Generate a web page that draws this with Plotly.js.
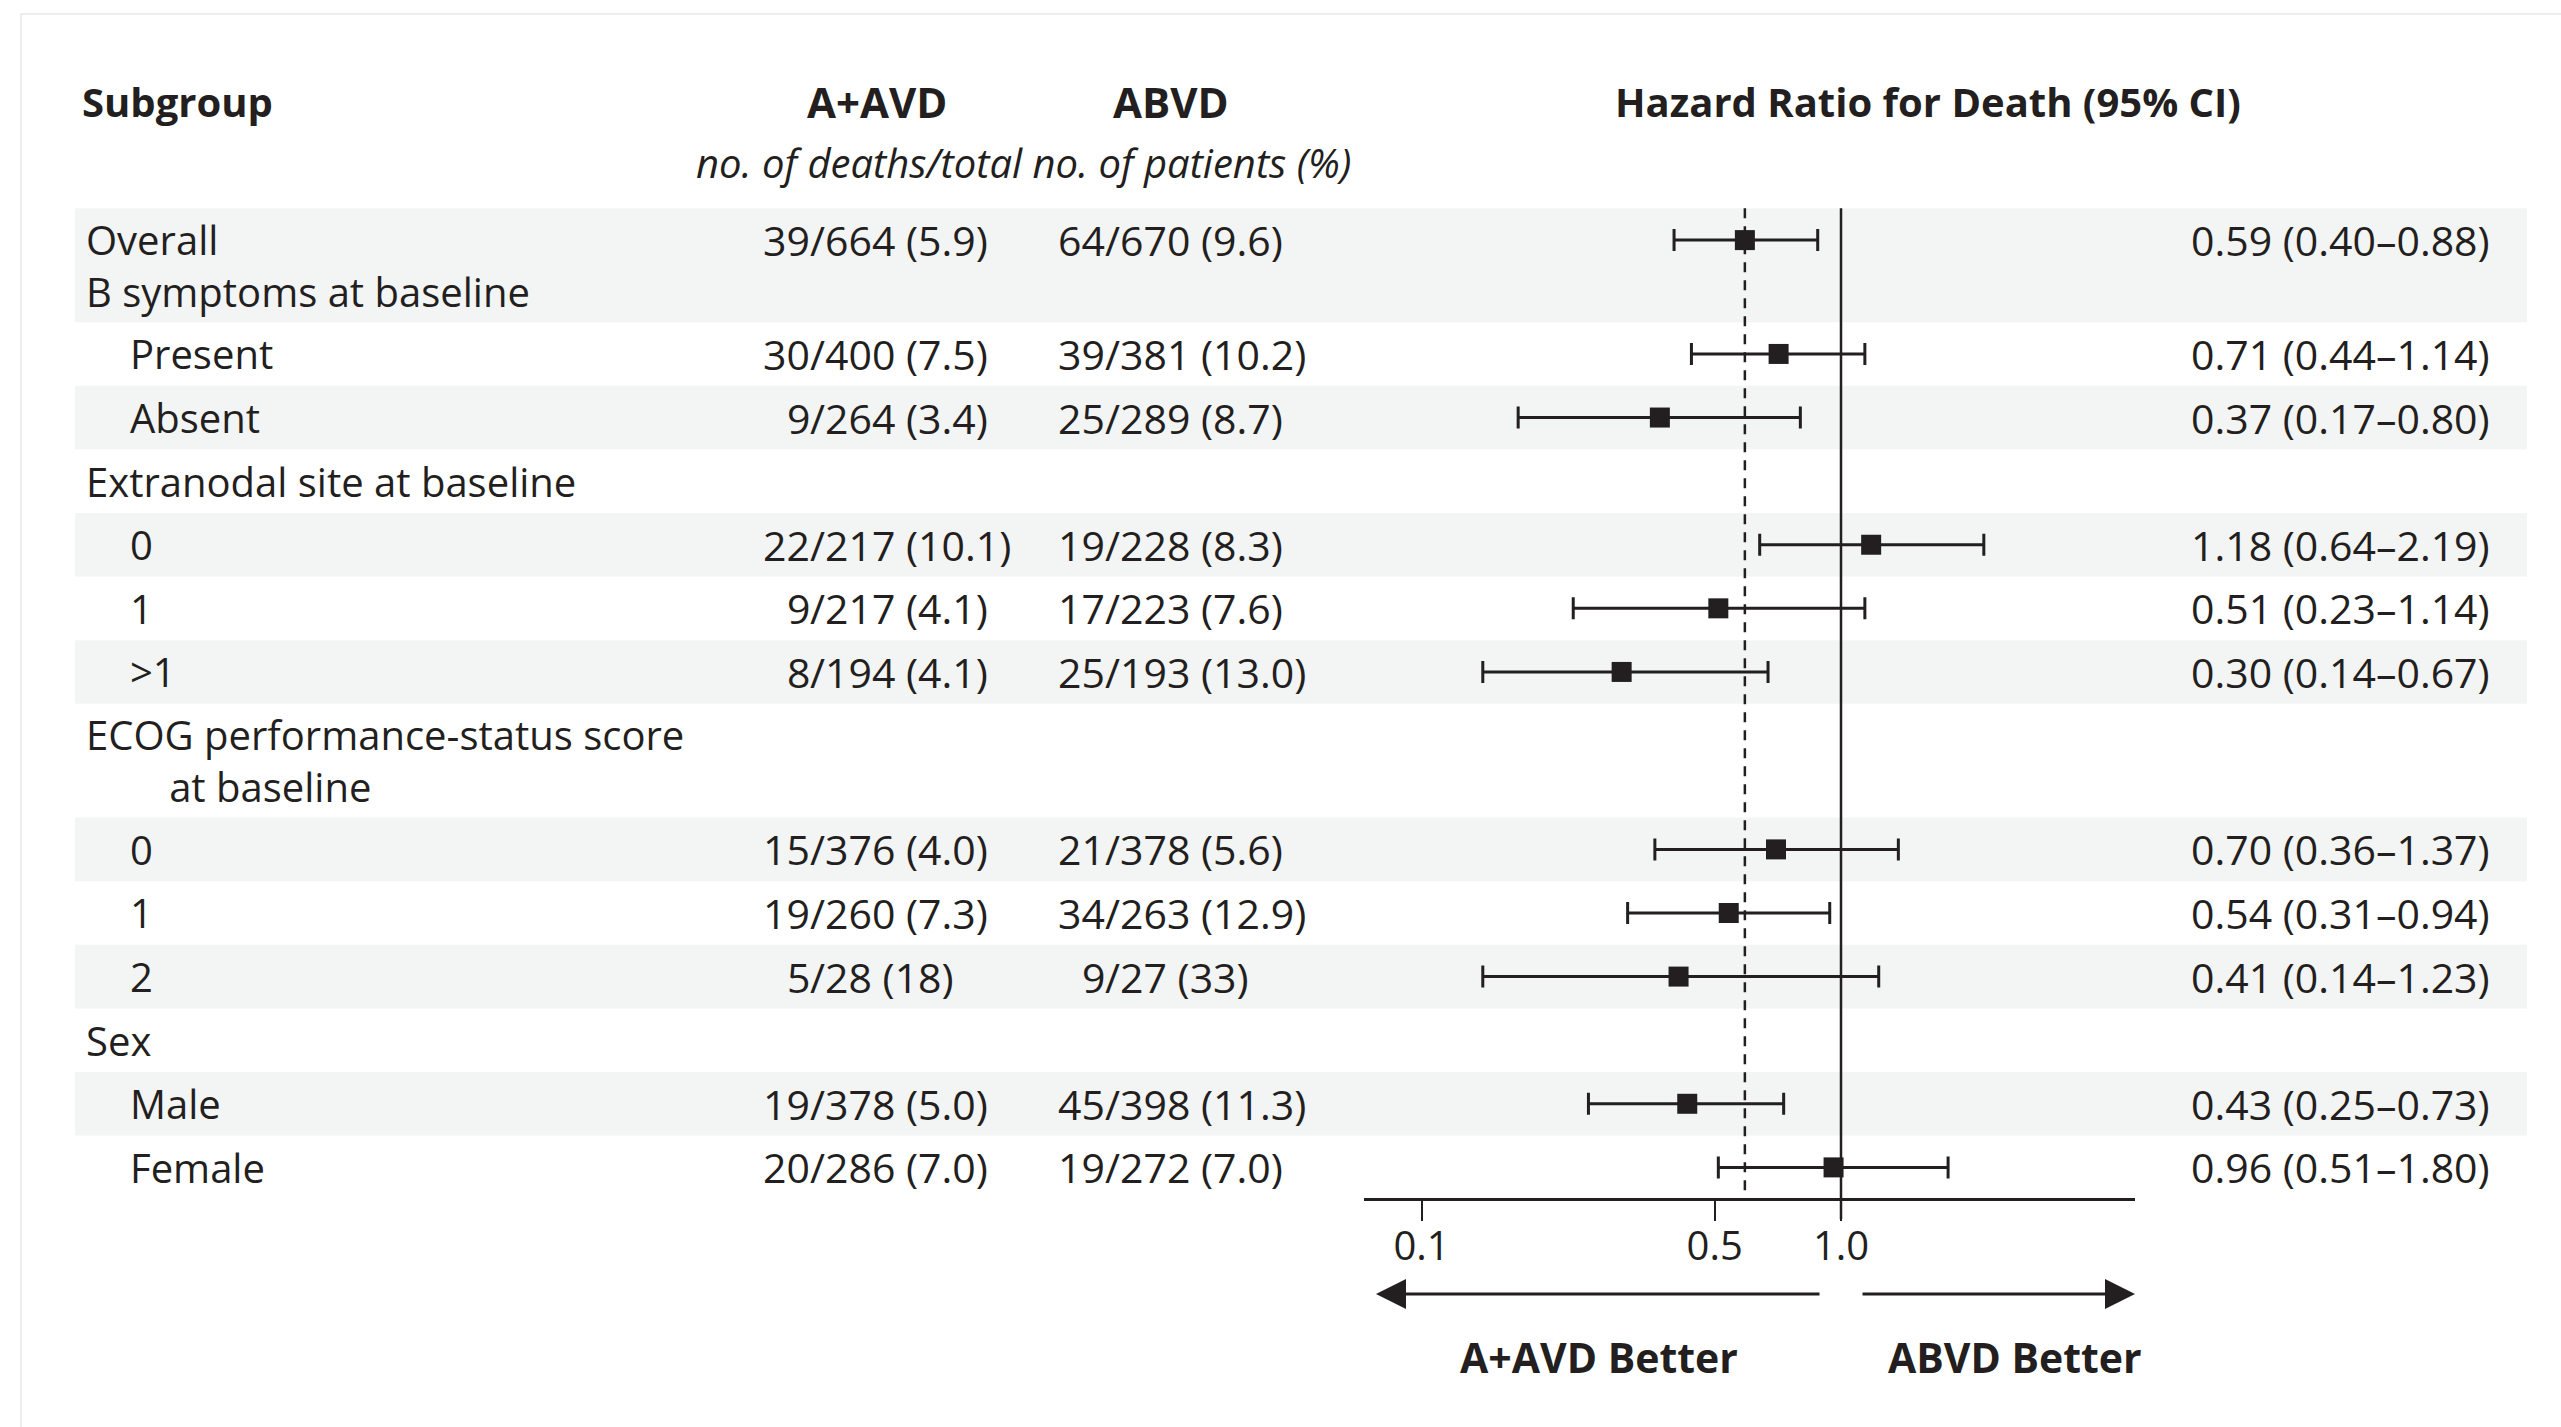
<!DOCTYPE html>
<html>
<head>
<meta charset="utf-8">
<script src="https://cdn.plot.ly/plotly-3.0.1.min.js"></script>
<style>
  html, body { margin: 0; padding: 0; background: #ffffff; }
  #chart { width: 2561px; height: 1427px; }
</style>
</head>
<body>
<div id="chart"></div>
<script>
// ---- Subgroup lines, top to bottom ----
const subgroups = [
  "Overall", "B symptoms at baseline", "Present", "Absent",
  "Extranodal site at baseline", "0", "1", ">1",
  "ECOG performance-status score", "at baseline", "0", "1", "2",
  "Sex", "Male", "Female"
];
const indentLevel = [0, 0, 1, 1, 0, 1, 1, 1, 0, 2, 1, 1, 1, 0, 1, 1];
// a continuation line sits closer to the line above it and shares its band
const continuation = [false, true, false, false, false, false, false, false, false, true, false, false, false, false, false, false];

// ---- A+AVD: deaths / total (%) ----
const aavdDeaths = [39, null, 30, 9, null, 22, 9, 8, null, null, 15, 19, 5, null, 19, 20];
const aavdTotal  = [664, null, 400, 264, null, 217, 217, 194, null, null, 376, 260, 28, null, 378, 286];
const aavdPct    = ["5.9", null, "7.5", "3.4", null, "10.1", "4.1", "4.1", null, null, "4.0", "7.3", "18", null, "5.0", "7.0"];

// ---- ABVD: deaths / total (%) ----
const abvdDeaths = [64, null, 39, 25, null, 19, 17, 25, null, null, 21, 34, 9, null, 45, 19];
const abvdTotal  = [670, null, 381, 289, null, 228, 223, 193, null, null, 378, 263, 27, null, 398, 272];
const abvdPct    = ["9.6", null, "10.2", "8.7", null, "8.3", "7.6", "13.0", null, null, "5.6", "12.9", "33", null, "11.3", "7.0"];

// ---- Hazard ratio for death with 95% CI ----
const hazardRatio = [0.59, null, 0.71, 0.37, null, 1.18, 0.51, 0.30, null, null, 0.70, 0.54, 0.41, null, 0.43, 0.96];
const ciLower     = [0.40, null, 0.44, 0.17, null, 0.64, 0.23, 0.14, null, null, 0.36, 0.31, 0.14, null, 0.25, 0.51];
const ciUpper     = [0.88, null, 1.14, 0.80, null, 2.19, 1.14, 0.67, null, null, 1.37, 0.94, 1.23, null, 0.73, 1.80];

// ---- Axis ticks ----
const tickValues = [0.1, 0.5, 1.0];
const tickLabels = ["0.1", "0.5", "1.0"];

// ---- Page geometry (pixels) ----
const W = 2561, H = 1427;
const ROW = 63.6;          // height of one table line
const TOP = 208.3;         // top edge of the first band
const CONT = 0.79;         // spacing of a continuation line, in rows
const X_LEFT = 1364, X_RIGHT = 2135, X_ONE = 1841, DECADE = 419.5;
const TICKLEN = 20;
const INDENT = 44;         // indent step of the subgroup labels
const FONT = "Open Sans, Noto Sans, Liberation Sans, sans-serif";
const INK = "#231f20";
const BAND = "#f3f4f4";
const LABEL_SIZE = 40, NUM_SIZE = 41;

// line layout in row units
const tops = [], centers = [], bottoms = [];
let cursor = 0;
subgroups.forEach((s, i) => {
  tops.push(cursor);
  if (continuation[i]) { centers.push(centers[i - 1] + CONT); cursor += CONT; }
  else { centers.push(cursor + 0.5); cursor += 1; }
  bottoms.push(cursor);
});
const axisRow = cursor;
const pxToRow = px => (px - TOP) / ROW;
const paperX = px => px / W;
const paperY = px => 1 - px / H;

// shaded bands
const shadedLine = [1, 1, 0, 1, 0, 1, 0, 1, 0, 0, 1, 0, 1, 0, 1, 0];
const shapes = [];
shadedLine.forEach((on, i) => {
  if (!on) return;
  shapes.push({
    type: "rect", layer: "below", xref: "paper", yref: "y",
    x0: paperX(75), x1: paperX(2527), y0: tops[i], y1: bottoms[i],
    fillcolor: BAND, line: { width: 0 }
  });
});
// faint outer frame
shapes.push({
  type: "rect", layer: "below", xref: "paper", yref: "paper",
  x0: paperX(21), x1: 1.02, y0: -0.02, y1: paperY(14),
  fillcolor: "rgba(0,0,0,0)", line: { color: "#eeeeee", width: 2 }
});

const annotations = [];
const txt = (text, x, y, xanchor, size, extra) => Object.assign({
  text, x, y, xref: "paper", yref: "y", xanchor, yanchor: "middle",
  showarrow: false, borderpad: 0, borderwidth: 0,
  font: { family: FONT, size, color: INK }
}, extra || {});

// column headers
const headY = pxToRow(101), subY = pxToRow(162);
annotations.push(txt("<b>Subgroup</b>", paperX(82), headY, "left", 40));
annotations.push(txt("<b>A+AVD</b>", paperX(877), headY, "center", 42));
annotations.push(txt("<b>ABVD</b>", paperX(1171), headY, "center", 42));
annotations.push(txt("<b>Hazard Ratio for Death (95% CI)</b>", paperX(1928), headY, "center", 40));
annotations.push(txt("<i>no. of deaths/total no. of patients (%)</i>", paperX(1023), subY, "center", 40));

// subgroup labels: a line and its continuation lines form one text block
const NBSP_PER_INDENT = 4;
subgroups.forEach((label, i) => {
  if (continuation[i]) return;
  const lines = [label];
  const ys = [centers[i]];
  for (let j = i + 1; j < subgroups.length && continuation[j]; j++) {
    const pad = "\u00a0".repeat(Math.max(0, indentLevel[j] - indentLevel[i]) * NBSP_PER_INDENT);
    lines.push(pad + subgroups[j]);
    ys.push(centers[j]);
  }
  const yMid = ys.reduce((a, b) => a + b, 0) / ys.length;
  annotations.push(txt(lines.join("<br>"), paperX(86 + indentLevel[i] * INDENT), yMid, "left",
                       LABEL_SIZE, { align: "left" }));
});

// counts and hazard ratios
const AAVD_SLASH = 810, ABVD_SLASH = 1105, HR_RIGHT = 2490;
subgroups.forEach((label, i) => {
  const y = centers[i];
  if (aavdDeaths[i] !== null) {
    annotations.push(txt(String(aavdDeaths[i]), paperX(AAVD_SLASH), y, "right", NUM_SIZE));
    annotations.push(txt("/" + aavdTotal[i] + " (" + aavdPct[i] + ")", paperX(AAVD_SLASH), y, "left", NUM_SIZE));
    annotations.push(txt(String(abvdDeaths[i]), paperX(ABVD_SLASH), y, "right", NUM_SIZE));
    annotations.push(txt("/" + abvdTotal[i] + " (" + abvdPct[i] + ")", paperX(ABVD_SLASH), y, "left", NUM_SIZE));
  }
  if (hazardRatio[i] !== null) {
    const s = hazardRatio[i].toFixed(2) + " (" + ciLower[i].toFixed(2) + "\u2013" + ciUpper[i].toFixed(2) + ")";
    annotations.push(txt(s, paperX(HR_RIGHT), y, "right", NUM_SIZE));
  }
});

// direction arrows below the axis
const logLo = -(X_ONE - X_LEFT) / DECADE;
const logHi = (X_RIGHT - X_ONE) / DECADE;
const arrowY = pxToRow(1294);
const gap = 20 / DECADE;
const arrow = (tip, tail) => ({
  x: tip, ax: tail, y: arrowY, ay: arrowY,
  xref: "x", axref: "x", yref: "y", ayref: "y",
  text: "", showarrow: true, arrowhead: 2, arrowsize: 2, arrowwidth: 3,
  arrowcolor: INK, standoff: 0, startstandoff: 0
});
annotations.push(arrow(logLo + 12 / DECADE, -gap));
annotations.push(arrow(logHi, gap));
annotations.push(txt("<b>A+AVD Better</b>", paperX(1599), pxToRow(1357), "center", 41));
annotations.push(txt("<b>ABVD Better</b>", paperX(2015), pxToRow(1357), "center", 41));

// ---- traces ----
const idx = hazardRatio.map((v, i) => v === null ? -1 : i).filter(i => i >= 0);
const overallHR = hazardRatio[0];

const traces = [
  { // overall estimate, dashed
    type: "scatter", mode: "lines", hoverinfo: "skip",
    x: [overallHR, overallHR], y: [0, axisRow],
    line: { color: INK, width: 2.5, dash: "10px,8px" }
  },
  { // line of no effect
    type: "scatter", mode: "lines", hoverinfo: "skip",
    x: [1, 1], y: [0, axisRow + TICKLEN / ROW],
    line: { color: INK, width: 2.5 }
  },
  { // point estimates with confidence intervals
    type: "scatter", mode: "markers", hoverinfo: "skip",
    x: idx.map(i => hazardRatio[i]),
    y: idx.map(i => centers[i]),
    marker: { symbol: "square", size: 20, color: INK },
    error_x: {
      type: "data", symmetric: false,
      array: idx.map(i => ciUpper[i] - hazardRatio[i]),
      arrayminus: idx.map(i => hazardRatio[i] - ciLower[i]),
      color: INK, thickness: 3, width: 11
    }
  }
];

const layout = {
  width: W, height: H,
  margin: { l: 0, r: 0, t: 0, b: 0 },
  paper_bgcolor: "#ffffff",
  plot_bgcolor: "rgba(0,0,0,0)",
  showlegend: false,
  xaxis: {
    type: "log", range: [logLo, logHi],
    domain: [paperX(X_LEFT), paperX(X_RIGHT)],
    anchor: "free", position: paperY(TOP + axisRow * ROW),
    showline: true, linecolor: INK, linewidth: 3,
    ticks: "outside", ticklen: TICKLEN, tickwidth: 2, tickcolor: INK,
    ticklabelstandoff: -9,
    tickvals: tickValues, ticktext: tickLabels,
    tickfont: { family: FONT, size: 40, color: INK },
    showgrid: false, zeroline: false, fixedrange: true
  },
  yaxis: {
    range: [(H - TOP) / ROW, -TOP / ROW],
    domain: [0, 1], visible: false, showgrid: false, zeroline: false, fixedrange: true
  },
  shapes, annotations
};

Plotly.newPlot("chart", traces, layout, { displayModeBar: false, responsive: false });
</script>
</body>
</html>
